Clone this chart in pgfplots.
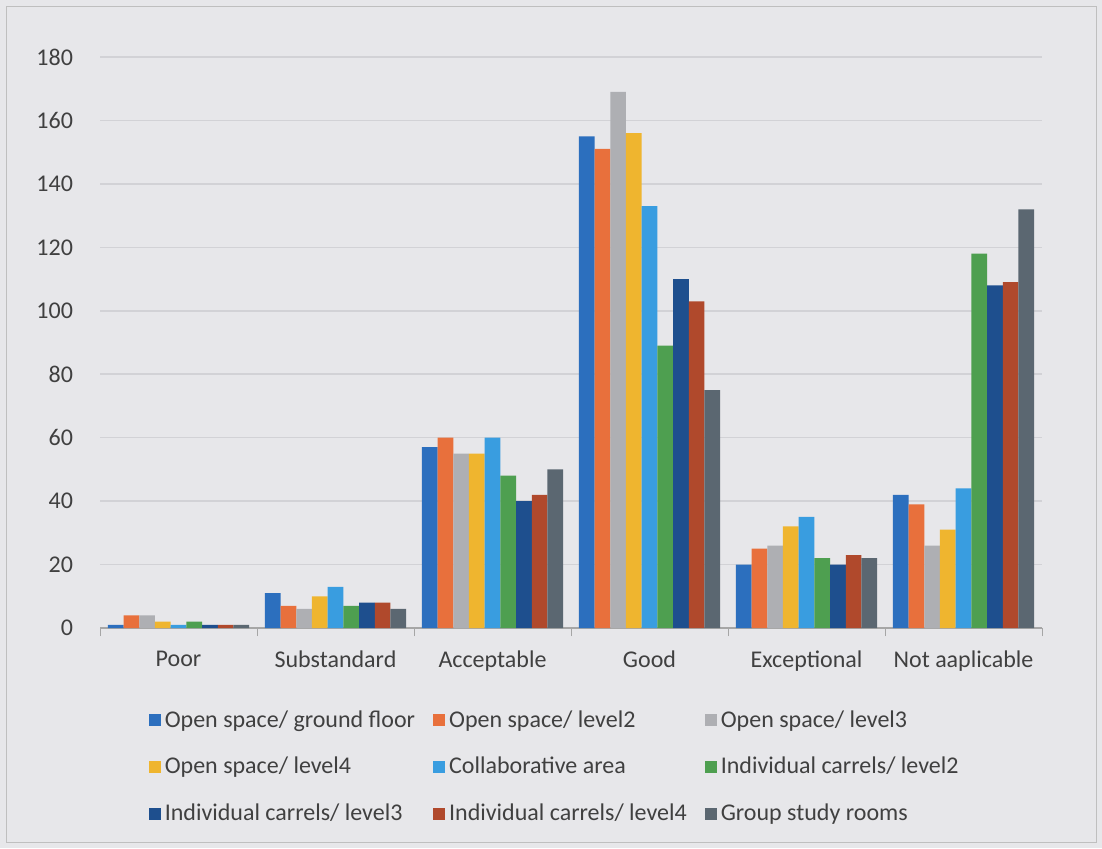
\documentclass[border=0pt]{standalone}
\usepackage{pgfplots}
\pgfplotsset{compat=1.18}
\usepackage{fontspec}
\setmainfont{Carlito}
\definecolor{bg}{HTML}{E7E7EA}
\definecolor{gridc}{HTML}{D2D2D6}
\definecolor{txt}{HTML}{404040}
\definecolor{c1}{HTML}{2C6FBE}
\definecolor{c2}{HTML}{E8703C}
\definecolor{c3}{HTML}{AEAFB3}
\definecolor{c4}{HTML}{EFB52F}
\definecolor{c5}{HTML}{399DE0}
\definecolor{c6}{HTML}{4E9F50}
\definecolor{c7}{HTML}{1E4F8E}
\definecolor{c8}{HTML}{B0492C}
\definecolor{c9}{HTML}{5B6771}
\begin{document}
\begin{tikzpicture}
\fill[bg] (0,0) rectangle (551pt,424pt);
\draw[gray!50] (3pt,3pt) rectangle (548pt,421pt);
\begin{axis}[
  at={(50pt,110pt)}, anchor=south west,
  width=471pt, height=285.5pt, scale only axis,
  xmin=-0.5, xmax=5.5, ymin=0, ymax=180,
  ybar=0pt, bar width=0.1,
  xtick={0,...,5},
  xticklabels={Poor,Substandard,Acceptable,Good,Exceptional,Not aaplicable},
  ytick={0,20,...,180},
  tick pos=bottom,
  ymajorgrids, grid style={gridc, line width=0.8pt},
  axis line style={draw=none},
  major tick length=0pt,
  extra x ticks={-0.5,0.5,...,5.5},
  extra x tick labels={},
  extra x tick style={major tick length=4pt, tick align=outside, tick style={gray!70}, grid=none},
  extra y ticks={0}, extra y tick labels={},
  extra y tick style={grid style={gray!70, line width=0.8pt}},
  /pgf/number format/assume math mode=true,
  tick label style={font=\fontsize{12}{14}\selectfont, text=txt},
  xticklabel style={yshift=-8pt},
  yticklabel style={xshift=-10pt},
  legend style={at={(0.045,-0.13)}, anchor=north west, draw=none, fill=none,
    font=\fontsize{12}{14}\selectfont, text=txt, legend columns=3,
    /tikz/every even column/.append style={column sep=7pt},
    row sep=9.5pt},
  legend cell align=left,
  legend image code/.code={\fill[#1,draw=none] (0pt,-3pt) rectangle (6pt,3pt);},
]
\addplot[fill=c1, draw=none] coordinates {(0,1) (1,11) (2,57) (3,155) (4,20) (5,42)};
\addplot[fill=c2, draw=none] coordinates {(0,4) (1,7) (2,60) (3,151) (4,25) (5,39)};
\addplot[fill=c3, draw=none] coordinates {(0,4) (1,6) (2,55) (3,169) (4,26) (5,26)};
\addplot[fill=c4, draw=none] coordinates {(0,2) (1,10) (2,55) (3,156) (4,32) (5,31)};
\addplot[fill=c5, draw=none] coordinates {(0,1) (1,13) (2,60) (3,133) (4,35) (5,44)};
\addplot[fill=c6, draw=none] coordinates {(0,2) (1,7) (2,48) (3,89) (4,22) (5,118)};
\addplot[fill=c7, draw=none] coordinates {(0,1) (1,8) (2,40) (3,110) (4,20) (5,108)};
\addplot[fill=c8, draw=none] coordinates {(0,1) (1,8) (2,42) (3,103) (4,23) (5,109)};
\addplot[fill=c9, draw=none] coordinates {(0,1) (1,6) (2,50) (3,75) (4,22) (5,132)};
\legend{Open space/ ground floor, Open space/ level2, Open space/ level3,
  Open space/ level4, Collaborative area, Individual carrels/ level2,
  Individual carrels/ level3, Individual carrels/ level4, Group study rooms}
\end{axis}
\end{tikzpicture}
\end{document}
